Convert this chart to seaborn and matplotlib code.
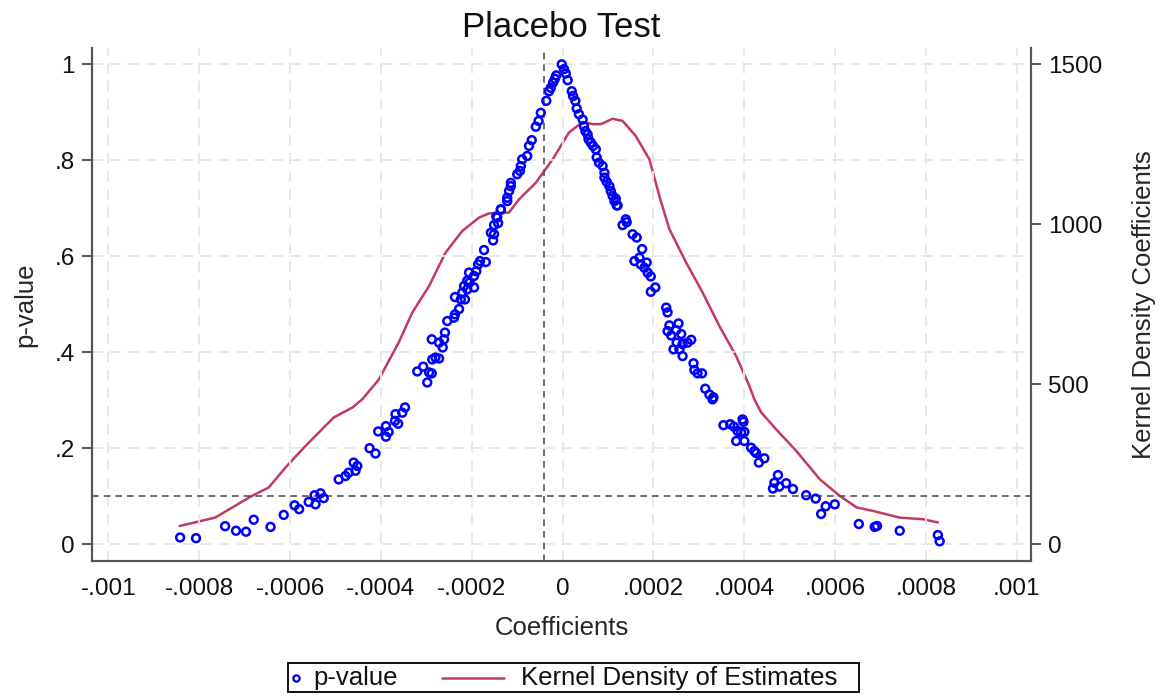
import numpy as np
import pandas as pd
import matplotlib
matplotlib.use('Agg')
import matplotlib.pyplot as plt
import seaborn as sns
from matplotlib.ticker import FuncFormatter, MultipleLocator
from matplotlib.lines import Line2D
from matplotlib.patches import Rectangle

# placebo coefficients and their p-values
coef = [
    -0.000842, -0.000807, -0.000743, -0.000719, -0.000697, -0.00068, -0.000643, -0.000614,
    -0.00059, -0.00058, -0.000559, -0.000544, -0.000546, -0.000533, -0.000526, -0.000493,
    -0.000478, -0.000471, -0.00046, -0.000452, -0.000456, -0.000425, -0.000412, -0.000406,
    -0.000389, -0.000389, -0.000383, -0.000369, -0.000368, -0.000362, -0.000353, -0.000347,
    -0.00032, -0.000307, -0.000298, -0.000294, -0.000288, -0.000287, -0.00028, -0.000272,
    -0.000288, -0.000272, -0.000264, -0.000261, -0.000259, -0.000254, -0.000239, -0.000237,
    -0.000228, -0.000237, -0.000224, -0.000215, -0.000221, -0.000217, -0.00021, -0.00021,
    -0.000205, -0.000195, -0.000206, -0.000195, -0.00019, -0.000186, -0.000182, -0.000169,
    -0.000173, -0.000158, -0.000153, -0.000151, -0.000151, -0.000142, -0.000146, -0.000136,
    -0.000122, -0.000144, -0.000136, -0.000122, -0.000118, -0.000114, -0.000114, -0.0001,
    -0.000094, -0.000092, -0.000089, -0.000078, -0.000074, -0.000068, -0.000059, -0.000053,
    -0.000048, -0.000036, -0.00003, -0.000026, -0.000021, -0.000017, -0.000014, -0.000002,
    0.000003, 0.000007, 0.000011, 0.00002, 0.000023, 0.000028, 0.000031, 0.000036,
    0.000044, 0.000047, 0.00005, 0.000055, 0.000057, 0.000062, 0.000067, 0.000073,
    0.000075, 0.00008, 0.000088, 0.000092, 0.000092, 0.000097, 0.000103, 0.000106,
    0.00011, 0.000117, 0.000119, 0.000114, 0.000121, 0.000132, 0.000141, 0.000154,
    0.000163, 0.000175, 0.000158, 0.000169, 0.000172, 0.00018, 0.000185, 0.000187,
    0.000194, 0.000204, 0.000194, 0.000228, 0.000231, 0.000235, 0.000231, 0.000239,
    0.00025, 0.000255, 0.000261, 0.000251, 0.000264, 0.000275, 0.000283, 0.000244,
    0.000257, 0.000264, 0.000288, 0.00029, 0.000297, 0.000307, 0.000314, 0.000323,
    0.000332, 0.00033, 0.000354, 0.000369, 0.000377, 0.000385, 0.000393, 0.000398,
    0.0004, 0.000382, 0.0004, 0.000415, 0.000422, 0.000426, 0.000432, 0.000444,
    0.000474, 0.000466, 0.000463, 0.000477, 0.000492, 0.000507, 0.000536, 0.000557,
    0.000579, 0.000569, 0.000599, 0.000652, 0.000687, 0.000692, 0.000742, 0.000826,
    0.00083, 0.000396, 0.000139,
]
pval = [
    0.014, 0.0125, 0.0375, 0.028, 0.026, 0.051, 0.036, 0.061,
    0.081, 0.073, 0.088, 0.083, 0.102, 0.106, 0.096, 0.135,
    0.142, 0.149, 0.17, 0.163, 0.153, 0.2, 0.189, 0.235,
    0.246, 0.224, 0.234, 0.257, 0.271, 0.251, 0.274, 0.285,
    0.36, 0.37, 0.337, 0.358, 0.356, 0.385, 0.389, 0.387,
    0.427, 0.42, 0.41, 0.427, 0.441, 0.465, 0.472, 0.479,
    0.49, 0.515, 0.51, 0.51, 0.524, 0.538, 0.531, 0.549,
    0.545, 0.535, 0.566, 0.559, 0.569, 0.583, 0.59, 0.588,
    0.613, 0.649, 0.633, 0.646, 0.665, 0.669, 0.683, 0.697,
    0.715, 0.681, 0.698, 0.722, 0.736, 0.753, 0.746, 0.771,
    0.778, 0.788, 0.802, 0.809, 0.83, 0.842, 0.87, 0.882,
    0.899, 0.924, 0.944, 0.951, 0.962, 0.97, 0.977, 1.0,
    0.99, 0.981, 0.967, 0.944, 0.934, 0.924, 0.908, 0.896,
    0.885, 0.871, 0.861, 0.854, 0.844, 0.837, 0.83, 0.823,
    0.806, 0.795, 0.788, 0.774, 0.764, 0.755, 0.746, 0.736,
    0.726, 0.72, 0.706, 0.715, 0.706, 0.665, 0.671, 0.646,
    0.639, 0.615, 0.59, 0.597, 0.583, 0.576, 0.587, 0.566,
    0.558, 0.535, 0.526, 0.493, 0.483, 0.456, 0.444, 0.435,
    0.446, 0.46, 0.438, 0.42, 0.417, 0.42, 0.426, 0.406,
    0.406, 0.392, 0.377, 0.363, 0.356, 0.356, 0.324, 0.312,
    0.306, 0.302, 0.248, 0.25, 0.245, 0.236, 0.233, 0.255,
    0.234, 0.215, 0.215, 0.201, 0.194, 0.19, 0.17, 0.179,
    0.144, 0.128, 0.116, 0.12, 0.127, 0.115, 0.102, 0.095,
    0.079, 0.063, 0.083, 0.042, 0.036, 0.038, 0.028, 0.019,
    0.006, 0.26, 0.677,
]

# kernel density of the estimates (right axis)
kde_x = [
    -0.000843, -0.000765, -0.000684, -0.000647, -0.00061, -0.000566, -0.000504, -0.000463,
    -0.000441, -0.000405, -0.000361, -0.000331, -0.000294, -0.000258, -0.000221, -0.000184,
    -0.000162, -0.00014, -0.000118, -0.000096, -0.000059, -0.000022, 0.000014, 0.000044,
    0.000066, 0.000084, 0.00011, 0.000132, 0.000161, 0.000191, 0.000215, 0.000235,
    0.000272, 0.000308, 0.000345, 0.000382, 0.000411, 0.000422, 0.000437, 0.00047,
    0.000514, 0.000566, 0.00061, 0.000647, 0.000683, 0.000742, 0.000793, 0.000826,
]
kde_y = [
    57, 83, 151, 177, 240, 307, 396, 427,
    453, 514, 630, 724, 807, 911, 979, 1021,
    1034, 1034, 1037, 1078, 1130, 1203, 1287, 1320,
    1313, 1313, 1330, 1323, 1276, 1203, 1078, 985,
    880, 787, 682, 588, 495, 453, 412, 359,
    292, 203, 151, 115, 104, 83, 78, 68,
]

pts = pd.DataFrame({'coef': coef, 'pval': pval})
kde = pd.DataFrame({'x': kde_x, 'density': kde_y})

sns.set_style('white')
plt.rcParams['font.family'] = ['Liberation Sans', 'DejaVu Sans']
plt.rcParams['text.color'] = '#111111'

fig = plt.figure(figsize=(11.63, 6.96), dpi=100)
ax = fig.add_axes([0.0791, 0.194, 0.8074, 0.737])
ax2 = ax.twinx()

blue = '#0000ff'
red = '#c23b5e'
grey = '#555555'
tick_fs = 17.5
label_fs = 18.5


def stata_fmt(v, pos):
    if abs(v) < 1e-12:
        return '0'
    s = ('%.4f' % v).rstrip('0').rstrip('.')
    return s.replace('0.', '.')


def p_fmt(v, pos):
    if abs(v) < 1e-9:
        return '0'
    if abs(v - 1) < 1e-9:
        return '1'
    return ('%.1f' % v).replace('0.', '.')


ax.set_xlim(-0.001036, 0.001031)
ax.set_ylim(-0.035, 1.034)
ax2.set_ylim(-0.035 * 1500, 1.034 * 1500)

ax.xaxis.set_major_locator(MultipleLocator(0.0002))
ax.yaxis.set_major_locator(MultipleLocator(0.2))
ax.xaxis.set_major_formatter(FuncFormatter(stata_fmt))
ax.yaxis.set_major_formatter(FuncFormatter(p_fmt))
ax2.set_yticks([0, 500, 1000, 1500])

ax.grid(True, color='#e6e6e6', linestyle=(0, (6, 4)), linewidth=1.3)
ax.set_axisbelow(True)

ax.axvline(-0.00004, color=grey, linestyle=(0, (4, 3)), linewidth=1.2, zorder=1)
ax.axhline(0.1, color=grey, linestyle=(0, (4, 3)), linewidth=1.2, zorder=1)

sns.lineplot(data=kde, x='x', y='density', ax=ax2, color=red, linewidth=1.8, legend=False)
sns.scatterplot(data=pts, x='coef', y='pval', ax=ax, s=32, facecolors='none',
                edgecolor=blue, linewidth=1.8, legend=False, zorder=3)

# scatter axes above the density axes
ax.set_zorder(ax2.get_zorder() + 1)
ax.patch.set_visible(False)

ax.set_title('Placebo Test', fontsize=25, pad=8)
ax.set_xlabel('Coefficients', fontsize=label_fs)
ax.set_ylabel('p-value', fontsize=label_fs)
ax2.set_ylabel('Kernel Density Coefficients', fontsize=label_fs)
ax2.set_xlabel('')
ax.xaxis.set_label_coords(0.5, -0.107)
ax.yaxis.set_label_coords(-0.0586, 0.5)
ax2.yaxis.set_label_coords(1.1076, 0.5)

for a in (ax, ax2):
    a.tick_params(axis='both', labelsize=tick_fs, length=7.5, width=1.4, color=grey,
                  direction='out', pad=5, labelcolor='#111111')
    a.spines['top'].set_visible(False)
    for side in ('left', 'bottom', 'right'):
        a.spines[side].set_color(grey)
        a.spines[side].set_linewidth(1.5)

# legend box drawn in figure coordinates, Stata style
W, H = 1163.0, 696.0
yc = 1 - 677.5 / H
fig.patches.append(Rectangle((288 / W, 1 - 692 / H), (859 - 288) / W, 29 / H,
                             transform=fig.transFigure, fill=False, edgecolor='#111111',
                             linewidth=1.4))
fig.lines.append(Line2D([296 / W], [yc], transform=fig.transFigure, marker='o',
                        linestyle='none', markerfacecolor='none', markeredgecolor=blue,
                        markeredgewidth=1.6, markersize=4.5))
fig.text(313 / W, yc, 'p-value', fontsize=label_fs, va='center', ha='left')
fig.lines.append(Line2D([442 / W, 504 / W], [yc, yc], transform=fig.transFigure,
                        color=red, linewidth=1.8))
fig.text(521 / W, yc, 'Kernel Density of Estimates', fontsize=label_fs, va='center', ha='left')

fig.savefig('out.png', dpi=100)
